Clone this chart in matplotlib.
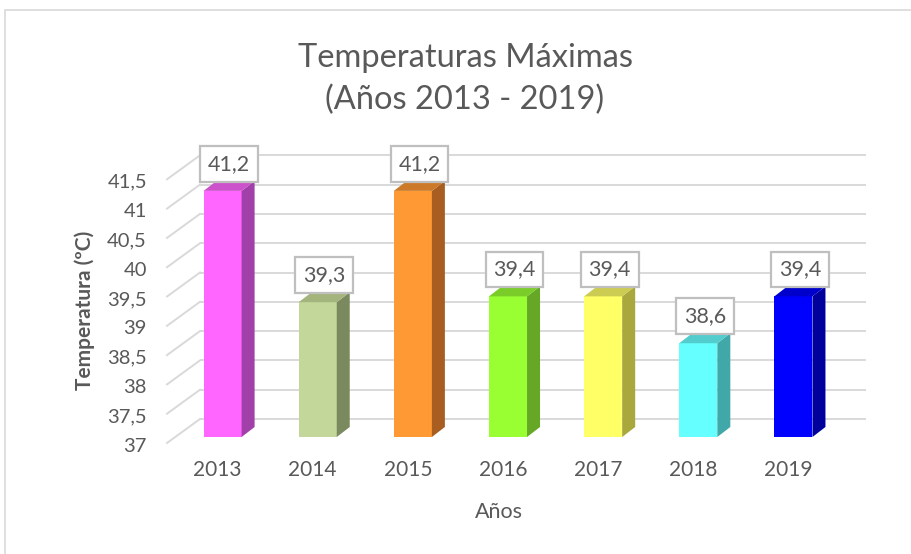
import matplotlib
matplotlib.use("Agg")
import matplotlib.pyplot as plt
from matplotlib.patches import Polygon, Rectangle
import numpy as np

# ---- data ----
years = ['2013', '2014', '2015', '2016', '2017', '2018', '2019']
temps = [41.2, 39.3, 41.2, 39.4, 39.4, 38.6, 39.4]
yticks = [37, 37.5, 38, 38.5, 39, 39.5, 40, 40.5, 41, 41.5]
front_colors = ['#FF66FF', '#C4D79B', '#FF9933', '#99FF33', '#FFFF66', '#66FFFF', '#0000FF']
top_colors = ['#CC52CC', '#A3B47C', '#CC7A29', '#7ACC29', '#CCCC52', '#52CCCC', '#0000CC']
side_colors = ['#A040A8', '#7A8A5E', '#A85E20', '#66A826', '#A8A83C', '#40A8A8', '#00009C']
title = 'Temperaturas Máximas\n(Años 2013 - 2019)'
xlabel = 'Años'
ylabel = 'Temperatura (ºC)'

def fmt(v):
    s = ('%.1f' % v).rstrip('0').rstrip('.')
    return s.replace('.', ',')

FONT = 'Lato'
GRAY = '#595959'
GRID = '#D9D9D9'

W, H = 911, 554
fig = plt.figure(figsize=(W / 100, H / 100), dpi=100)
fig.patch.set_facecolor('white')

# chart frame (right and bottom edges fall outside the image)
fig.patches.append(Rectangle((5 / W, -0.1), 1.2, 1.1 - 10 / H, transform=fig.transFigure,
                             fill=False, ec='#D9D9D9', lw=1.2))

# axes = plane of the bars' front faces
x0, x1 = 175, 841
y37, y415 = 437, 173.3
ax = fig.add_axes([x0 / W, (H - y37) / H, (x1 - x0) / W, (y37 - y415) / H])
ax.set_xlim(-0.5, 6.5)
ax.set_ylim(37, 41.5)
ax.axis('off')

pxx = (x1 - x0) / 7.0
pxy = (y37 - y415) / 4.5
def ox(p):
    return p / pxx
def oy(p):
    return p / pxy

# plane offsets (pixels) relative to the bars' front plane
back = (25, 18)
front = (-8, -6)
side = (13, 10)

xlo, xhi = -0.5, 6.5
for v in yticks:
    ax.plot([xlo + ox(back[0]), xhi + ox(back[0])], [v + oy(back[1])] * 2,
            color=GRID, lw=1.4, zorder=1, clip_on=False, solid_capstyle='butt')
    ax.plot([xlo + ox(front[0]), xlo + ox(back[0])], [v + oy(front[1]), v + oy(back[1])],
            color=GRID, lw=1.4, zorder=1, clip_on=False)
    ax.text(xlo + ox(front[0] - 20), v + oy(-9), fmt(v), ha='right', va='center',
            fontsize=14.5, color=GRAY, family=FONT)

x = np.arange(len(years))
w = 0.4
ax.bar(x, np.array(temps) - 37, bottom=37, width=w, color=front_colors, zorder=3, clip_on=False)
sx, sy = ox(side[0]), oy(side[1])
for i, t in enumerate(temps):
    r = x[i] + w / 2
    l = x[i] - w / 2
    ax.add_patch(Polygon([(r, 37), (r + sx, 37 + sy), (r + sx, t + sy), (r, t)],
                         closed=True, fc=side_colors[i], ec='none', zorder=3, clip_on=False))
    ax.add_patch(Polygon([(l, t), (r, t), (r + sx, t + sy), (l + sx, t + sy)],
                         closed=True, fc=top_colors[i], ec='none', zorder=3, clip_on=False))
    ax.annotate(fmt(t), xy=(x[i] + sx / 2, t), xytext=(0, 27 * 0.72), textcoords='offset points',
                ha='center', va='center', fontsize=15.5, color=GRAY, family=FONT, zorder=5,
                bbox=dict(boxstyle='square,pad=0.36', fc='white', ec='#BFBFBF', lw=1.6))
    ax.annotate(years[i], xy=(x[i] + ox(front[0] + 3), 37), xytext=(0, -33 * 0.72),
                textcoords='offset points', ha='center', va='center',
                fontsize=15, color=GRAY, family=FONT)

fig.text(465 / W, 1 - 79 / H, title, ha='center', va='center', fontsize=23.5, color=GRAY,
         family=FONT, linespacing=1.5)
fig.text(499 / W, 1 - 512 / H, xlabel, ha='center', va='center', fontsize=15.5, color=GRAY, family=FONT)
fig.text(85 / W, 1 - 310 / H, ylabel, ha='center', va='center', rotation=90, fontsize=15,
         color=GRAY, family=FONT, weight='bold')

fig.savefig('out.png', dpi=100)
